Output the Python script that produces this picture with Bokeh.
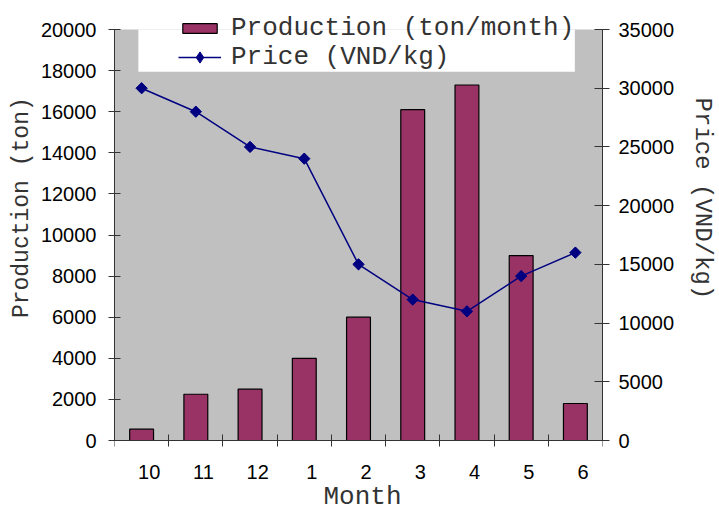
import math
from bokeh.plotting import figure
from bokeh.models import (Range1d, LinearAxis, FixedTicker, ColumnDataSource,
                          BoxAnnotation, Legend, LegendItem, Label)
from bokeh.embed import file_html
from bokeh.resources import INLINE

months = ["10", "11", "12", "1", "2", "3", "4", "5", "6"]
production = [550, 2250, 2500, 4000, 6000, 16100, 17300, 9000, 1800]
price = [30000, 28000, 25000, 24000, 15000, 12000, 11000, 14000, 16000]
left_ticks = list(range(0, 20001, 2000))
right_ticks = list(range(0, 35001, 5000))
PROD_MAX = 20000
PRICE_MAX = 35000

# layout (pixels): canvas 719x511, axes span y=29..440
H = 511
AX_TOP, AX_BOT = 29, 440
span = AX_BOT - AX_TOP


def rng(vmax):
    per = vmax / span
    return Range1d(-(H - AX_BOT) * per, vmax + AX_TOP * per)


xs = [i + 0.5 for i in range(len(months))]
src = ColumnDataSource(dict(x=xs, prod=production, price=price))

MONO = "Liberation Mono"
SANS = "Liberation Sans"
AX = "#333333"
TXT = "#333333"
NB = "\u00a0"

p = figure(width=719, height=H, output_backend="svg", toolbar_location=None,
           x_range=Range1d(0, len(months)), y_range=rng(PROD_MAX),
           min_border_left=114, min_border_right=113, min_border_top=0,
           min_border_bottom=0)
p.background_fill_color = "white"
p.border_fill_color = "white"
p.outline_line_color = None
p.xgrid.visible = False
p.ygrid.visible = False
p.extra_y_ranges = {"price": rng(PRICE_MAX)}

# gray plot area and white legend backdrop
p.add_layout(BoxAnnotation(bottom=0, top=PROD_MAX, fill_color="#C0C0C0",
                           fill_alpha=1.0, line_color=None, level="underlay"))
p.add_layout(BoxAnnotation(left=0.44, right=8.49, bottom=17950, top=PROD_MAX,
                           fill_color="white", fill_alpha=1.0, line_color=None,
                           level="underlay"))

bars = p.vbar(x="x", top="prod", width=0.44, source=src, fill_color="#993366",
              line_color="black", line_width=1.2)
ln = p.line(x="x", y="price", source=src, y_range_name="price",
            line_color="#000080", line_width=1.5)
# diamond (used for the legend), covered by a 45-degree square of equal width
dm = p.scatter(x="x", y="price", source=src, y_range_name="price",
               marker="diamond", size=10,
               fill_color="#000080", line_color="#000080")
p.scatter(x="x", y="price", source=src, y_range_name="price",
          marker="square", angle=math.pi / 4, size=8,
          fill_color="#000080", line_color="#000080")

# x axis at y=0: minor ticks at category boundaries, labels offset right
xa = p.xaxis[0]
xa.fixed_location = 0
xa.ticker = FixedTicker(ticks=[v + 0.14 for v in xs],
                        minor_ticks=list(range(len(months) + 1)))
xa.major_label_overrides = {v + 0.14: m for v, m in zip(xs, months)}
xa.major_tick_in = 0
xa.major_tick_out = 0
xa.minor_tick_in = 6
xa.minor_tick_out = 6
xa.minor_tick_line_color = AX
xa.axis_line_color = AX
xa.major_label_standoff = 18
xa.major_label_text_font = SANS
xa.major_label_text_font_size = "20px"
xa.major_label_text_color = "black"

p.add_layout(Label(x=248, y=15, x_units="screen", y_units="screen",
                   text="Month", text_font=MONO, text_font_size="26px",
                   text_color=TXT, text_align="center",
                   text_baseline="middle"))

ya = p.yaxis[0]
ya.bounds = (0, PROD_MAX)
ya.ticker = FixedTicker(ticks=left_ticks)
ya.major_tick_in = 6
ya.major_tick_out = 6
ya.minor_tick_line_color = None
ya.axis_line_color = AX
ya.major_tick_line_color = AX
ya.major_label_standoff = 12
ya.major_label_text_font = SANS
ya.major_label_text_font_size = "20px"
ya.major_label_text_color = "black"
ya.axis_label = NB * 7 + "Production (ton)"
ya.axis_label_text_font = MONO
ya.axis_label_text_font_size = "23px"
ya.axis_label_text_font_style = "normal"
ya.axis_label_text_color = TXT
ya.axis_label_standoff = 3

ra = LinearAxis(y_range_name="price", ticker=FixedTicker(ticks=right_ticks),
                bounds=(0, PRICE_MAX))
ra.major_tick_in = 8
ra.major_tick_out = 7
ra.minor_tick_line_color = None
ra.axis_line_color = AX
ra.major_tick_line_color = AX
ra.major_label_standoff = 9
ra.major_label_text_font = SANS
ra.major_label_text_font_size = "20px"
ra.major_label_text_color = "black"
ra.axis_label = "Price (VND/kg)" + NB * 8
ra.axis_label_text_font = MONO
ra.axis_label_text_font_size = "24px"
ra.axis_label_text_font_style = "normal"
ra.axis_label_text_color = TXT
ra.axis_label_standoff = 12
p.add_layout(ra, "right")


def style_legend(lg, gh):
    lg.background_fill_alpha = 0
    lg.border_line_color = None
    lg.padding = 0
    lg.margin = 0
    lg.spacing = 0
    lg.glyph_width = 43
    lg.glyph_height = gh
    lg.label_height = 26
    lg.label_standoff = 10
    lg.label_text_font = MONO
    lg.label_text_font_size = "26px"
    lg.label_text_color = TXT


leg1 = Legend(items=[LegendItem(label="Production (ton/month)", renderers=[bars])],
              location=(64, H - 43))
style_legend(leg1, 12)
leg2 = Legend(items=[LegendItem(label="Price (VND/kg)", renderers=[ln, dm])],
              location=(64, H - 72))
style_legend(leg2, 28)
p.add_layout(leg1, "center")
p.add_layout(leg2, "center")

open("out.html", "w").write(file_html(p, INLINE))
